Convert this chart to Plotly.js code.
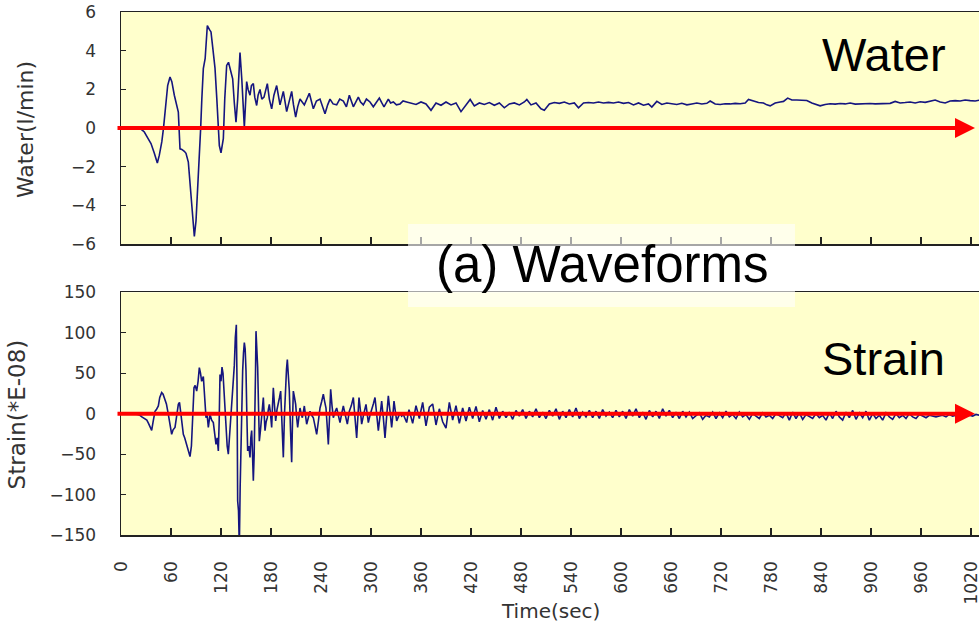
<!DOCTYPE html>
<html>
<head>
<meta charset="utf-8">
<script src="https://cdn.plot.ly/plotly-3.0.1.min.js"></script>
<style>
html,body{margin:0;padding:0;overflow:hidden;background:#fff;}
#chart{width:990px;height:625px;}
</style>
</head>
<body>
<div id="chart"></div>
<script>
// ---- Water (l/min) waveform ----
const waterTime = [16,20,24,28,32,36,40,43.6,46,49,51,54,56,58.8,61,64,67,68.8,70.8,73,76,78,80.8,83,85,87,88,90,92.8,95.6,97,98.8,101,103.6,106,108,110,112.8,115,116.8,118,120,122.8,124.5,126.8,129,131.5,134,136,138,140,141.5,142.8,145,146.5,148,150.8,152.5,154.8,156.5,158.8,160.5,162.8,164.5,166.8,169,171.6,175.6,178,180.8,183.5,186.8,190.8,194.8,198.8,201.5,204.8,207,209.6,212,214.8,220,226,230.8,234.5,238.8,241.5,244.8,248,250.8,254.5,258.8,262.5,266.8,270.5,274,278.8,281.5,284.8,287.5,290.8,294.5,298.8,302.8,306.5,310,313,315.6,320.8,323.5,326.8,330.5,334.8,338.5,342.8,
348,354,360,366,372,378,384,390,396,402,408,414,419,424,430,436,442,448,454,460,466,472,478,484,487,492,498,504,508,514,520,526,532,538,544,549,555,561,567,573,579,585,591,597,603,609,615,621,627,633,637,643,649,655,661,667,673,679,685,691,697,703,707,713,719,725,731,737,743,749,753,759,765,771,775,779,785,791,795,800,805,811,817,823,829,835,839,845,851,857,863,869,875,881,887,893,899,905,911,917,923,929,935,941,947,953,959,965,971,977,983,989,995,1001,1007,1013,1019,1025,1031,1040];
const waterFlow = [0,0,-0.05,-0.2,-0.5,-0.8,-1.3,-1.8,-1.4,-0.7,0,1.2,2.2,2.64,2.4,1.7,1.2,0.83,-1.07,-1.1,-1.2,-1.3,-1.76,-3.0,-4.1,-5.2,-5.6,-4.8,-2.6,0,1.5,3.07,3.6,5.3,5.1,4.97,4.2,3.1,1.5,0.13,-0.9,-1.28,-0.55,1.5,3.24,3.4,3.0,2.55,1.3,0.3,1.5,3.0,3.9,2.5,1.0,0.05,2.4,2.0,1.7,2.2,2.3,1.6,1.17,1.7,2.0,1.5,1.6,2.3,1.5,1.0,1.7,2.2,1.2,1.9,0.85,1.4,1.9,1.2,0.57,1.1,1.5,1.2,1.8,1.0,1.4,1.5,1.1,0.74,1.2,1.5,1.25,1.2,1.5,1.4,1.1,1.7,1.1,1.3,1.6,1.35,1.2,1.5,1.35,1.1,1.3,1.55,1.3,1.1,1.5,1.3,1.35,1.2,1.25,1.4,1.35,
1.3,1.22,1.35,1.25,0.92,1.3,1.18,1.35,1.2,1.3,0.85,1.2,1.48,1.15,1.3,1.22,1.32,1.18,1.3,1.05,1.25,1.3,1.2,1.35,1.48,1.2,1.3,1.0,0.92,1.25,1.32,1.28,1.35,1.25,1.3,1.05,1.3,1.32,1.3,1.35,1.3,1.33,1.3,1.35,1.28,1.32,1.2,1.3,1.18,1.25,1.09,1.38,1.22,1.3,1.25,1.22,1.28,1.2,1.25,1.3,1.25,1.28,1.4,1.25,1.22,1.26,1.25,1.28,1.26,1.3,1.48,1.38,1.32,1.3,1.2,1.15,1.3,1.35,1.38,1.55,1.45,1.45,1.45,1.43,1.3,1.2,1.15,1.22,1.26,1.24,1.27,1.25,1.3,1.24,1.26,1.25,1.27,1.25,1.26,1.24,1.28,1.38,1.3,1.32,1.35,1.3,1.36,1.33,1.4,1.45,1.35,1.3,1.4,1.42,1.4,1.45,1.42,1.4,1.45,1.42];

// ---- Strain (*E-08) waveform ----
const strainTime = [8,12,16,20,22.8,25,28.8,31,33,36.8,38.5,40.8,42.5,44.8,46.5,48.8,50.5,52.8,54.5,56.8,58.8,60.8,62.5,64.8,66.5,68.8,70.2,71.6,73,74.8,76.5,78.8,80.5,82.8,84.5,86,87.6,89,90.8,92.5,94,95.4,96.8,98.8,100.5,102,103.4,104.8,106.8,108.8,110.8,112.4,114,115.4,116.8,117.8,118.8,120,121.2,122.4,123.6,124.8,126,127.4,128.8,130.2,131.6,133.2,134.8,136,137.2,138.4,139.2,140,141,142,143,144,145,146,147,148,149,150,151,152,153.4,154.8,155.8,156.8,157.8,158.8,159.8,160.8,161.4,162,163,164,165,166,167.4,168.8,170,170.8,171.8,172.8,174.2,175.6,176.8,178,179.4,180.8,181.8,182.8,184.2,185.6,187.2,188.8,190.2,191.6,193.2,194.8,196.2,197.6,198.6,199.6,200.8,202,203.4,204.8,205.8,206.8,208.2,209.6,210.8,212,213.4,214.8,216.2,217.6,218.8,220,221.4,222.8,224.8,226.8,228.8,230.8,232.8,234.8,236.8,238.8,240.8,242.8,244.4,246,247.4,248.8,250.2,251.6,253.2,254.8,256.8,258.8,260.8,262.8,264.8,266.8,269.2,271.6,274,276.4,278.8,280.8,282.8,284.2,285.6,287.2,288.8,291.4,294,295.4,296.8,298.8,300.8,302.8,304.8,306.8,308.8,310.8,312.8,314.8,316.8,318.8,320.8,322.8,324.8,326.2,327.6,329.2,330.8,332.8,334.8,336.8,338.8,340.8,342.8,344.2,345.6,
350,354,358,362,366,370,374,378,382,386,390,394,398,402,406,410,414,418,422,426,430,434,438,442,446,450,454,458,
462,466,470,474,478,482,486,490,494,498,502,506,510,514,518,522,526,530,534,538,542,546,550,554,558,562,566,570,574,578,582,586,590,594,598,602,606,610,614,618,622,626,630,634,638,642,646,650,654,658,662,666,670,674,678,
682,686,690,694,698,702,706,710,714,718,722,726,730,734,738,742,746,750,754,758,762,766,770,774,778,782,786,790,794,798,802,806,810,814,818,822,826,830,834,838,842,846,850,854,858,862,866,870,874,878,882,886,890,894,898,902,906,910,914,918,922,926,930,934,938,942,946,950,954,958,962,966,970,974,978,982,986,990,994,998,1002,1006,1010,1014,1018,1022,1026,1030,1034,1040];
const strainValue = [0,0,-0.5,-1,-2,-4,-7,-8,-12,-20.6,-10,3,5,9.5,20,26,24,18,12,-1,-15,-25.5,-20,-17,-5,11.5,14,3,-10,-25.5,-30,-38,-45,-53,-40,-5,32,35,28,40,57,50,40,46,20,-5,-2,-17,-1,-8,-11,-25,-38,-30,-46,-10,48.5,40,57.6,50,28,-5,-30,-40,-50,-30,-1,10,32,60,94,110,40,-108,-120,-165,-90,-34,10,53,75,88,80,53,0,-46,-40,-54,-30,-21,-50,-83,-50,-9,50,102,85,57,10,-34,-20,-5,10,20,0,-21,-10,-5,5,11.5,0,-17,10,32,10,-9,5,15.6,20,28,-20,-54,0,44,55,67,50,28,-20,-60,-10,28,20,11.5,-5,-17,-5,7,0,-5,2,9.5,-2,-13,-5,3,-2,-5,-15,-25.5,-10,7,15,24,15,7,-15,-38,-5,30,10,-5,2,7,-2,-11,0,9.5,-2,-13,3,10,20,-5,-30,-5,20,5,-13,0,11.5,0,-11,-2,7,12,20,0,-21,-3,15.6,-5,-30,-3,22,3,-17,-2,15.6,3,-9,-4,1,-3,-1,-6,-11,-2,5,
-12,10,-6,14,-15,8,12,-14,6,-10,-18,14,-8,10,-12,7,-9,8,-6,9,-10,4,-7,5,-8,8,-6,3,
-5,2,-7,4,-3,5,-6,3,-4,6,-5,2,-6,4,-3,6,-7,3,-5,5,-4,7,-6,2,-4,4,-5,3,-6,5,-3,2,-5,4,-4,3,-6,5,-3,6,-5,2,-7,4,-4,3,-6,6,-3,4,-5,2,-6,3,-4,
2,-6,-2,1,-7,-2,-4,2,-6,1,-5,3,-4,-1,-6,2,-4,-1,-7,0,-3,-6,1,-4,-2,-6,0,-3,-5,1,-8,2,-6,1,-7,-1,-4,-6,0,-5,-2,-8,1,-6,3,-4,-8,2,-5,4,-7,1,-5,3,-8,0,-6,-2,-8,1,-4,-7,0,-5,-2,-6,0,-4,-6,-1,-3,-5,-2,-3,-4,-3,-2,-4,-1,-3,-2,-5,-1,-3,-2,-3,-1,-2,-3,-2];

const waterRange = [-6, 6];
const strainRange = [-150, 150];
const timeRange = [0, 1042.8];
const arrowStart = -6, arrowEnd = 1024.8;

const navy = '#15157f';
const axisCol = '#222222';
const tickFont = {family: 'DejaVu Sans', size: 17, color: '#333333'};

const traces = [
  {x: waterTime, y: waterFlow, xaxis: 'x', yaxis: 'y', type: 'scatter', mode: 'lines',
   line: {color: navy, width: 1.6}, hoverinfo: 'skip', showlegend: false},
  {x: strainTime, y: strainValue, xaxis: 'x2', yaxis: 'y2', type: 'scatter', mode: 'lines',
   line: {color: navy, width: 1.6}, hoverinfo: 'skip', showlegend: false}
];

const baseX = {
  range: timeRange, tick0: 0, dtick: 60, ticks: 'inside', ticklen: 7, tickwidth: 1.2,
  tickcolor: axisCol, showline: true, mirror: true, linecolor: axisCol, linewidth: 1.5,
  showgrid: false, zeroline: false
};
const baseY = {
  ticks: 'inside', ticklen: 5, tickwidth: 1.2, tickcolor: axisCol, showline: true, mirror: true,
  linecolor: axisCol, linewidth: 1.5, showgrid: false, zeroline: false, tickfont: tickFont,
  ticklabelstandoff: 20
};

const layout = {
  width: 990, height: 625,
  margin: {l: 121, r: 0, t: 12, b: 90},
  paper_bgcolor: '#ffffff', plot_bgcolor: '#ffffcc',
  xaxis: Object.assign({}, baseX, {anchor: 'y', domain: [0, 1], showticklabels: false}),
  xaxis2: Object.assign({}, baseX, {anchor: 'y2', domain: [0, 1], showticklabels: true, tickangle: -90,
    tickfont: {family: 'DejaVu Sans', size: 17, color: '#333333'}, ticklabelstandoff: 18}),
  yaxis: Object.assign({}, baseY, {anchor: 'x', domain: [0.556, 1], range: waterRange, dtick: 2}),
  yaxis2: Object.assign({}, baseY, {anchor: 'x2', domain: [0, 0.464], range: strainRange, dtick: 50}),
  shapes: [
    {type: 'rect', xref: 'paper', yref: 'paper', x0: 0.3303, x1: 0.7756, y0: 0.436, y1: 0.5946,
     fillcolor: 'rgba(255,255,255,0.6)', line: {width: 0}, layer: 'above'}
  ],
  annotations: [
    {xref: 'x', yref: 'y', x: arrowEnd, y: 0, ax: arrowStart, ay: 0, axref: 'x', ayref: 'y',
     showarrow: true, arrowhead: 2, arrowsize: 1, arrowwidth: 4, arrowcolor: '#ff0000', text: ''},
    {xref: 'x2', yref: 'y2', x: arrowEnd, y: 0, ax: arrowStart, ay: 0, axref: 'x2', ayref: 'y2',
     showarrow: true, arrowhead: 2, arrowsize: 1, arrowwidth: 4, arrowcolor: '#ff0000', text: ''},
    {xref: 'paper', yref: 'paper', x: 0.878, y: 0.918, text: 'Water', showarrow: false,
     font: {family: 'Liberation Sans, Arial', size: 47, color: '#000'}, xanchor: 'center', yanchor: 'middle'},
    {xref: 'paper', yref: 'paper', x: 0.878, y: 0.338, text: 'Strain', showarrow: false,
     font: {family: 'Liberation Sans, Arial', size: 47, color: '#000'}, xanchor: 'center', yanchor: 'middle'},
    {xref: 'paper', yref: 'paper', x: 0.553, y: 0.518, text: '(a) Waveforms', showarrow: false,
     font: {family: 'Liberation Sans, Arial', size: 51, color: '#000'}, xanchor: 'center', yanchor: 'middle'},
    {xref: 'paper', yref: 'paper', x: -0.11, y: 0.775, text: 'Water(l/min)', textangle: -90, showarrow: false,
     font: {family: 'DejaVu Sans', size: 22, color: '#333333'}, xanchor: 'center', yanchor: 'middle'},
    {xref: 'paper', yref: 'paper', x: -0.12, y: 0.23, text: 'Strain(*E-08)', textangle: -90, showarrow: false,
     font: {family: 'DejaVu Sans', size: 23, color: '#333333'}, xanchor: 'center', yanchor: 'middle'},
    {xref: 'paper', yref: 'paper', x: 0.494, y: -0.145, text: 'Time(sec)', showarrow: false,
     font: {family: 'DejaVu Sans', size: 20, color: '#333333'}, xanchor: 'center', yanchor: 'middle'}
  ]
};

Plotly.newPlot('chart', traces, layout, {staticPlot: true, displayModeBar: false});
</script>
</body>
</html>
